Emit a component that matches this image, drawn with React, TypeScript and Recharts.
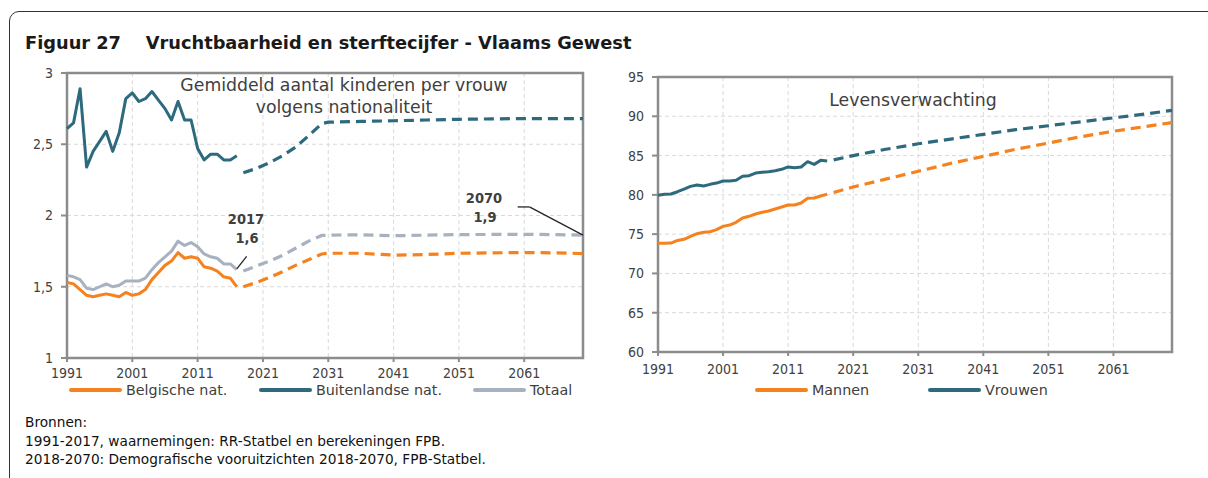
import React from 'react';
import {
  CartesianGrid,
  Line,
  LineChart,
  ReferenceArea,
  ReferenceLine,
  XAxis,
  YAxis,
} from 'recharts';

// waarnemingen 1991-2017
const obsYears = Array.from({ length: 27 }, (_, i) => 1991 + i);

const belgObs = [1.53, 1.52, 1.48, 1.44, 1.43, 1.44, 1.45, 1.44, 1.43, 1.46, 1.44, 1.45, 1.48, 1.55, 1.6, 1.65, 1.68, 1.74, 1.7, 1.71, 1.7, 1.64, 1.63, 1.61, 1.57, 1.56, 1.5];
const buitObs = [2.61, 2.65, 2.89, 2.34, 2.45, 2.52, 2.59, 2.45, 2.58, 2.82, 2.86, 2.8, 2.82, 2.87, 2.81, 2.75, 2.67, 2.8, 2.67, 2.67, 2.47, 2.39, 2.43, 2.43, 2.39, 2.39, 2.42];
const totObs = [1.58, 1.57, 1.55, 1.49, 1.48, 1.5, 1.52, 1.5, 1.51, 1.54, 1.54, 1.54, 1.56, 1.62, 1.67, 1.71, 1.75, 1.82, 1.79, 1.81, 1.78, 1.73, 1.71, 1.7, 1.66, 1.66, 1.62];

const mannenObs = [73.83, 73.83, 73.87, 74.2, 74.34, 74.72, 75.06, 75.23, 75.31, 75.57, 75.99, 76.16, 76.5, 77.05, 77.27, 77.56, 77.78, 77.95, 78.2, 78.45, 78.71, 78.71, 78.96, 79.56, 79.6, 79.85, 80.07];
const vrouwenObs = [79.94, 80.07, 80.11, 80.4, 80.74, 81.08, 81.25, 81.12, 81.34, 81.5, 81.76, 81.76, 81.85, 82.36, 82.44, 82.78, 82.87, 82.95, 83.08, 83.25, 83.55, 83.46, 83.55, 84.22, 83.88, 84.39, 84.3];

const fertProjYears = [2018, 2020, 2022, 2024, 2026, 2028, 2030, 2031, 2036, 2041, 2046, 2051, 2056, 2061, 2066, 2070];
const belgProj = [1.5, 1.53, 1.565, 1.605, 1.65, 1.69, 1.73, 1.735, 1.735, 1.722, 1.726, 1.735, 1.738, 1.74, 1.738, 1.733];
const buitProj = [2.3, 2.33, 2.37, 2.42, 2.48, 2.56, 2.645, 2.655, 2.66, 2.665, 2.67, 2.675, 2.678, 2.68, 2.68, 2.68];
const totProj = [1.61, 1.645, 1.68, 1.72, 1.77, 1.82, 1.86, 1.862, 1.865, 1.858, 1.862, 1.866, 1.867, 1.868, 1.866, 1.862];

const lifeProjYears = [2018, 2021, 2026, 2031, 2036, 2041, 2046, 2051, 2056, 2061, 2066, 2070];
const mannenProj = [80.3, 81.0, 82.0, 83.0, 84.0, 84.9, 85.8, 86.6, 87.4, 88.1, 88.7, 89.2];
const vrouwenProj = [84.45, 85.0, 85.8, 86.5, 87.1, 87.7, 88.3, 88.8, 89.3, 89.8, 90.3, 90.75];

const xTicks = [1991, 2001, 2011, 2021, 2031, 2041, 2051, 2061];
const fertTicks = [1, 1.5, 2, 2.5, 3];
const lifeTicks = [60, 65, 70, 75, 80, 85, 90, 95];

const ORANGE = '#F5821F';
const TEAL = '#2D6A7E';
const GREY = '#A7B1BF';
const TEXT = '#404040';
const NUM_FONT = '"DejaVu Sans Condensed", "DejaVu Sans", sans-serif';
const FONT = '"DejaVu Sans", sans-serif';

type Row = { year: number; [key: string]: number | null };

function buildRows(parts: { key: string; years: number[]; values: number[] }[]): Row[] {
  const byYear = new Map<number, Row>();
  parts.forEach((part) => {
    part.years.forEach((year, i) => {
      const row = byYear.get(year) ?? { year };
      row[part.key] = part.values[i];
      byYear.set(year, row);
    });
  });
  return [...byYear.values()].sort((a, b) => a.year - b.year);
}

const fertData = buildRows([
  { key: 'belg', years: obsYears, values: belgObs },
  { key: 'buit', years: obsYears, values: buitObs },
  { key: 'tot', years: obsYears, values: totObs },
  { key: 'belgP', years: fertProjYears, values: belgProj },
  { key: 'buitP', years: fertProjYears, values: buitProj },
  { key: 'totP', years: fertProjYears, values: totProj },
]);

const lifeData = buildRows([
  { key: 'man', years: obsYears, values: mannenObs },
  { key: 'vrouw', years: obsYears, values: vrouwenObs },
  { key: 'manP', years: lifeProjYears, values: mannenProj },
  { key: 'vrouwP', years: lifeProjYears, values: vrouwenProj },
]);

const tickStyle = { fill: TEXT, fontSize: 14, fontFamily: NUM_FONT };
const comma = (v: number) => String(v).replace('.', ',');

function solid(key: string, color: string) {
  return (
    <Line
      key={key}
      dataKey={key}
      stroke={color}
      strokeWidth={3}
      dot={false}
      activeDot={false}
      isAnimationActive={false}
      strokeLinejoin="round"
    />
  );
}

function dashed(key: string, color: string) {
  return (
    <Line
      key={key}
      dataKey={key}
      stroke={color}
      strokeWidth={3.2}
      strokeDasharray="10 6"
      dot={false}
      activeDot={false}
      connectNulls
      isAnimationActive={false}
    />
  );
}

function LegendItem({ x, color, label }: { x: number; color: string; label: string }) {
  return (
    <>
      <div style={{ position: 'absolute', left: x, top: 388, width: 53, height: 4, borderRadius: 2, background: color }} />
      <div style={{ position: 'absolute', left: x + 57, top: 381, fontSize: 14.3, lineHeight: '18px', color: TEXT, whiteSpace: 'nowrap' }}>
        {label}
      </div>
    </>
  );
}

function Txt({ x, y, children, size = 17.3, bold = false, num = false }: { x: number; y: number; children: React.ReactNode; size?: number; bold?: boolean; num?: boolean }) {
  return (
    <div
      style={{
        position: 'absolute',
        left: x - 250,
        width: 500,
        top: y - size * 0.65,
        lineHeight: `${size * 1.3}px`,
        textAlign: 'center',
        fontSize: size,
        fontFamily: num ? NUM_FONT : FONT,
        fontWeight: bold ? 'bold' : 'normal',
        color: TEXT,
        whiteSpace: 'nowrap',
      }}
    >
      {children}
    </div>
  );
}

export default function App() {
  return (
    <div style={{ position: 'fixed', left: 0, top: 0, width: 1208, height: 478, background: '#fff', overflow: 'hidden', fontFamily: FONT }}>
      <div style={{ position: 'absolute', left: 9, top: 11, width: 1400, height: 800, border: '1px solid #333', borderTopLeftRadius: 10 }} />
      <div style={{ position: 'absolute', left: 25, top: 32, fontSize: 17.8, fontWeight: 'bold', color: '#1a1a1a', whiteSpace: 'pre' }}>
        {'Figuur 27    Vruchtbaarheid en sterftecijfer - Vlaams Gewest'}
      </div>

      <div style={{ position: 'absolute', left: 0, top: 0 }}>
        <LineChart width={600} height={380} data={fertData} margin={{ top: 73, right: 17, bottom: 0, left: 22 }}>
          <CartesianGrid stroke="#d9d9d9" strokeDasharray="4 3" />
          <XAxis
            dataKey="year"
            type="number"
            domain={[1991, 2070]}
            ticks={xTicks}
            interval={0}
            height={22}
            axisLine={false}
            tickSize={4}
            tickMargin={6}
            tickLine={{ stroke: '#8c8c8c', strokeWidth: 2 }}
            tick={tickStyle}
          />
          <YAxis
            type="number"
            domain={[1, 3]}
            ticks={fertTicks}
            width={45}
            axisLine={false}
            tickSize={6}
            tickMargin={8}
            tickLine={{ stroke: '#8c8c8c', strokeWidth: 2 }}
            tick={tickStyle}
            tickFormatter={comma}
          />
          <ReferenceArea x1={1991} x2={2070} y1={1} y2={3} fill="none" stroke="#8c8c8c" strokeWidth={2.5} />
          {solid('buit', TEAL)}
          {solid('tot', GREY)}
          {solid('belg', ORANGE)}
          {dashed('buitP', TEAL)}
          {dashed('totP', GREY)}
          {dashed('belgP', ORANGE)}
          <ReferenceLine segment={[{ x: 2017, y: 1.625 }, { x: 2018.5, y: 1.713 }]} stroke="#262626" strokeWidth={1.3} />
          <ReferenceLine segment={[{ x: 2060, y: 2.06 }, { x: 2061.8, y: 2.06 }]} stroke="#262626" strokeWidth={1.3} />
          <ReferenceLine segment={[{ x: 2061.8, y: 2.06 }, { x: 2070, y: 1.862 }]} stroke="#262626" strokeWidth={1.3} />
        </LineChart>
      </div>

      <div style={{ position: 'absolute', left: 600, top: 0 }}>
        <LineChart width={600} height={380} data={lifeData} margin={{ top: 77, right: 28, bottom: 0, left: 18 }}>
          <CartesianGrid stroke="#d9d9d9" strokeDasharray="4 3" />
          <XAxis
            dataKey="year"
            type="number"
            domain={[1991, 2070]}
            ticks={xTicks}
            interval={0}
            height={28}
            axisLine={false}
            tickSize={4}
            tickMargin={8}
            tickLine={{ stroke: '#8c8c8c', strokeWidth: 2 }}
            tick={tickStyle}
          />
          <YAxis
            type="number"
            domain={[60, 95]}
            ticks={lifeTicks}
            width={40}
            axisLine={false}
            tickSize={6}
            tickMargin={8}
            tickLine={{ stroke: '#8c8c8c', strokeWidth: 2 }}
            tick={tickStyle}
          />
          <ReferenceArea x1={1991} x2={2070} y1={60} y2={95} fill="none" stroke="#8c8c8c" strokeWidth={2.5} />
          {solid('man', ORANGE)}
          {solid('vrouw', TEAL)}
          {dashed('manP', ORANGE)}
          {dashed('vrouwP', TEAL)}
        </LineChart>
      </div>

      <Txt x={344} y={85}>Gemiddeld aantal kinderen per vrouw</Txt>
      <Txt x={344} y={107}>volgens nationaliteit</Txt>
      <Txt x={913} y={100}>Levensverwachting</Txt>

      <Txt x={246} y={219} size={14.5} bold num>2017</Txt>
      <Txt x={247} y={238} size={14.5} bold num>1,6</Txt>
      <Txt x={484} y={198} size={14.5} bold num>2070</Txt>
      <Txt x={485} y={217} size={14.5} bold num>1,9</Txt>

      <LegendItem x={69} color={ORANGE} label="Belgische nat." />
      <LegendItem x={259} color={TEAL} label="Buitenlandse nat." />
      <LegendItem x={473} color={GREY} label="Totaal" />
      <LegendItem x={755} color={ORANGE} label="Mannen" />
      <LegendItem x={928} color={TEAL} label="Vrouwen" />

      <div style={{ position: 'absolute', left: 25, top: 413, fontSize: 13.7, lineHeight: '18.5px', color: '#111' }}>
        <div>Bronnen:</div>
        <div>1991-2017, waarnemingen: RR-Statbel en berekeningen FPB.</div>
        <div>2018-2070: Demografische vooruitzichten 2018-2070, FPB-Statbel.</div>
      </div>
    </div>
  );
}
